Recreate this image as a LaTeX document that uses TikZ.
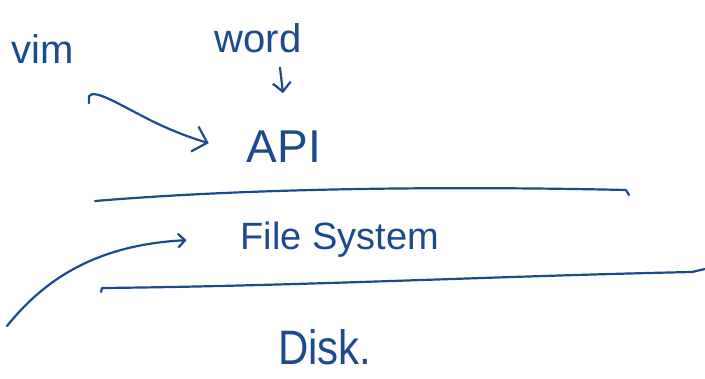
\documentclass[tikz,border=0pt]{standalone}
\usepackage{fontspec}
\setmainfont{Liberation Sans}
\usetikzlibrary{arrows.meta}
\definecolor{ink}{HTML}{1C4A8E}
\begin{document}
\begin{tikzpicture}[x=1pt,y=-1pt,
  ink/.style={draw=ink,line width=2.2pt,line cap=round,line join=round},
  hand/.style={text=ink,inner sep=0pt,anchor=base,font=\fontsize{38}{38}\selectfont},
  tip/.style={-{Straight Barb[length=#1,width=2*#1,line width=2.2pt]}}]
\useasboundingbox (0,0) rectangle (705,378);

% labels
\node[hand,font=\fontsize{40}{40}\selectfont] (vim) at (43,63) {vim};
\node[hand,font=\fontsize{40}{40}\selectfont] (word) at (258,52) {word};
\node[hand,font=\fontsize{46}{46}\selectfont] (api) at (284,162) {API};
\node[hand] (fs) at (340,249) {File System};
\node[hand,font=\fontsize{42}{42}\selectfont,yscale=1.15] (disk) at (325,364) {Disk.};

% arrows
\draw[ink,tip=9pt] ([xshift=22pt,yshift=-15pt]word.south) -- ([xshift=-1pt,yshift=37pt]api.north);
\draw[ink,tip=13pt] ([xshift=46pt,yshift=-40pt]vim.south) -- ++(0,-7)
  .. controls +(5,-8) and +(-30,-15) .. (150,120)
  .. controls +(20,10) and +(-20,-6) .. ([xshift=-38pt,yshift=3pt]api.west);
\coordinate (start) at (7,326);
\draw[ink,tip=7pt] (start) .. controls (40,285) and (90,245) .. ([xshift=-54pt,yshift=-1pt]fs.west);

% layer boundaries
\draw[ink] (95,201) .. controls (250,188) and (450,186) .. (626,190) -- (629,195);
\draw[ink] (101,292) -- (102,288) .. controls (300,286) and (500,276) .. (692,272) -- (705,269);
\end{tikzpicture}
\end{document}
